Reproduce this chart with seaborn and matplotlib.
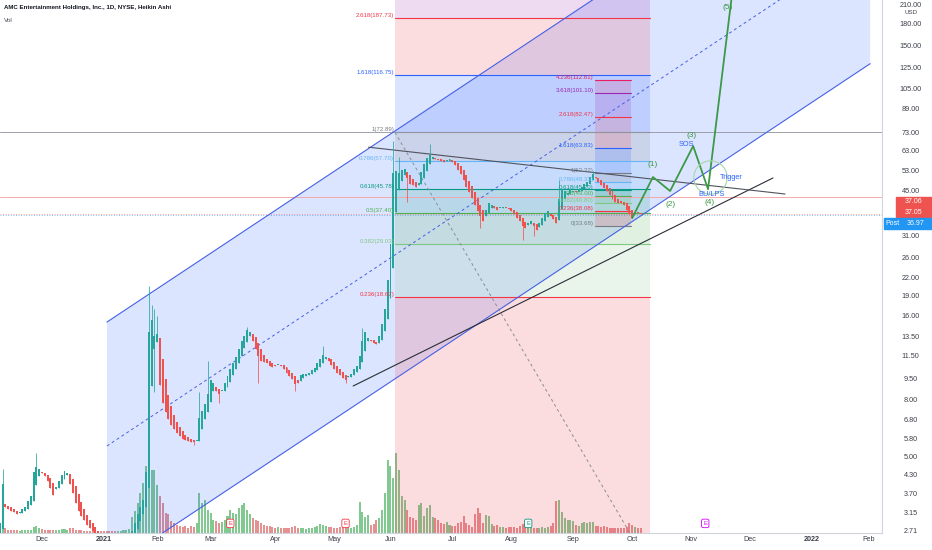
import numpy as np
import pandas as pd
import matplotlib
matplotlib.use("Agg")
import matplotlib.pyplot as plt
import matplotlib.transforms as mtransforms
from matplotlib.patches import Rectangle
from matplotlib.ticker import NullLocator, NullFormatter
import seaborn as sns

# ------------------------------------------------------------------ data
# bar index: 0 = 1 Dec 2020 (trading days), first bar = 9 Nov 2020
first_bar = -15
ha_open_first = 2.6

ha_close = [
    # Nov 2020
    2.9, 4.0, 3.3, 3.25, 3.2, 3.15, 3.1, 3.15, 3.25, 3.3, 3.45, 3.6, 4.4, 4.6, 4.5,
    # Dec 2020
    4.35, 4.25, 4.1, 3.85, 3.65, 3.9, 4.1, 4.3, 4.45, 4.35, 4.0, 3.7, 3.4, 3.2, 3.05,
    2.95, 2.85, 2.78, 2.7, 2.6, 2.5, 2.45,
    # Jan 2021
    2.4, 2.35, 2.3, 2.3, 2.3, 2.35, 2.4, 2.45, 2.5, 2.55, 2.7, 2.9, 3.1, 3.3, 3.5,
    4.4, 14.0, 15.5, 13.5,
    # Feb
    13.8, 9.0, 7.8, 7.2, 6.8, 6.5, 6.3, 6.1, 5.95, 5.8, 5.75, 5.7, 5.65, 5.65, 5.7,
    6.9, 7.3, 7.7, 8.4,
    # Mar
    9.4, 9.2, 8.6, 8.4, 8.6, 9.2, 9.7, 10.3, 10.8, 11.4, 12.2, 13.0, 13.6, 14.2, 14.0,
    13.0, 12.2, 11.5, 11.0, 10.9, 10.8, 10.6, 10.5,
    # Apr
    10.6, 10.7, 10.6, 10.3, 10.0, 9.7, 9.5, 9.1, 9.2, 9.8, 9.9, 9.9, 10.0, 10.2, 10.4,
    10.8, 11.2, 11.6, 11.4, 11.0, 10.7,
    # May
    10.3, 10.0, 9.8, 9.6, 9.4, 9.7, 9.9, 10.3, 10.6, 11.5, 13.0, 14.0, 13.3, 13.0, 12.8,
    12.7, 13.5, 15.0, 17.0, 21.5,
    # Jun
    29.0, 52.0, 53.0, 52.0, 53.5, 54.0, 50.0, 47.5, 47.0, 46.5, 48.0, 52.5, 56.0, 59.0,
    60.5, 59.5, 58.5, 58.0, 57.5, 57.0, 58.0, 58.5,
    # Jul
    57.0, 55.5, 53.5, 51.5, 49.0, 46.5, 44.5, 42.5, 40.0, 38.0, 36.5, 35.0, 38.5, 40.5,
    40.0, 39.0, 38.5, 39.0, 39.2, 39.0, 38.8,
    # Aug
    38.0, 37.0, 36.0, 35.0, 33.5, 33.0, 34.5, 35.0, 33.5, 32.5, 34.5, 36.0, 37.5, 38.0,
    36.5, 35.5, 34.5, 42.0, 45.5, 45.0, 44.0, 45.5,
    # Sep
    45.0, 44.5, 45.5, 46.5, 47.5, 48.5, 50.5, 51.5, 50.0, 48.5, 47.0, 46.0, 45.0, 43.5,
    42.0, 41.0, 40.5, 40.8, 40.0, 38.5, 37.0,
    # Oct
    36.0, 37.5, 37.3, 37.05,
]

volume_m = [
    # Nov 2020
    60, 130, 70, 50, 45, 40, 40, 35, 40, 45, 40, 50, 90, 110, 70,
    # Dec
    60, 50, 45, 40, 40, 45, 50, 60, 55, 45, 80, 70, 50, 45, 40, 35, 30, 30, 25, 30, 30, 25,
    # Jan
    30, 30, 35, 35, 30, 30, 35, 40, 40, 60, 240, 330, 450, 600, 750, 1000, 1150, 950, 950,
    # Feb
    720, 550, 450, 300, 280, 180, 150, 120, 100, 90, 110, 80, 100, 90, 150, 600, 450, 500, 350,
    # Mar
    300, 200, 180, 150, 160, 200, 250, 350, 300, 280, 380, 420, 450, 350, 280, 220, 200,
    180, 150, 120, 110, 100, 90,
    # Apr
    80, 90, 70, 80, 75, 70, 90, 100, 80, 75, 70, 65, 70, 80, 90, 110, 130, 120, 100, 90, 85,
    # May
    80, 75, 90, 100, 110, 90, 80, 85, 120, 460, 320, 240, 270, 120, 130, 200, 230, 350, 600, 1100,
    # Jun
    1000, 820, 1200, 950, 550, 500, 350, 240, 220, 200, 420, 450, 250, 380, 420, 240, 220,
    200, 150, 140, 160, 120,
    # Jul
    100, 110, 150, 170, 250, 150, 120, 90, 280, 380, 300, 150, 270, 260, 130, 110, 120, 90, 85, 80, 90,
    # Aug
    90, 85, 80, 100, 130, 150, 120, 90, 80, 75, 80, 85, 80, 90, 100, 150, 480, 500, 320, 220, 200, 190,
    # Sep
    180, 120, 110, 150, 160, 150, 170, 160, 110, 100, 95, 100, 95, 80, 70, 75, 70, 80, 75, 90, 150,
    # Oct
    120, 90, 80, 70,
]

wick_high = {-14: 4.5, -2: 5.15, 38: 20.4, 39: 17.5, 40: 17.0, 41: 16.0, 56: 8.5, 59: 11.0,
             73: 14.6, 100: 12.5, 114: 14.5, 125: 68.0, 127: 59.5, 138: 66.0, 184: 49.0, 196: 53.0}
wick_low = {40: 8.5, 54: 5.5, 63: 7.8, 77: 9.2, 90: 8.6, 108: 9.2, 130: 41.0, 156: 33.2,
            171: 30.0, 175: 31.0}

month_ticks = [0, 22, 41, 60, 83, 104, 124, 146, 167, 189, 210, 231, 252, 274, 294]
month_labels = ["Dec", "2021", "Feb", "Mar", "Apr", "May", "Jun", "Jul", "Aug", "Sep",
                "Oct", "Nov", "Dec", "2022", "Feb"]
price_ticks = [2.71, 3.15, 3.70, 4.30, 5.00, 5.80, 6.80, 8.00, 9.50, 11.50, 13.50, 16.00,
               19.00, 22.00, 26.00, 31.00, 45.00, 53.00, 63.00, 73.00, 89.00, 105.00,
               125.00, 150.00, 180.00, 210.00]

# parallel channel (bar index, price)
chan_x = [23.1, 294.7]
chan_upper = [15.2, 998.0]
chan_lower = [1.96, 128.6]

# Fibonacci retracements
fib_colors = {"0": "#787b86", "0.236": "#f23645", "0.382": "#81c784", "0.5": "#4caf50",
              "0.618": "#089981", "0.786": "#64b5f6", "1": "#787b86", "1.618": "#2962ff",
              "2.618": "#f23645", "3.618": "#9c27b0", "4.236": "#e91e63"}
big_fib_x = [125.6, 216.4]
big_fib_levels = {"0": 1.92, "0.236": 18.67, "0.382": 29.03, "0.5": 37.40, "0.618": 45.78,
                  "0.786": 57.70, "1": 72.89, "1.618": 116.75, "2.618": 187.73, "3.618": 258.70}
small_fib_x = [196.6, 209.6]
small_fib_levels = {"0": 33.68, "0.236": 38.08, "0.382": 40.80, "0.5": 43.00, "0.618": 45.20,
                    "0.786": 48.33, "1": 52.32, "1.618": 63.83, "2.618": 82.47,
                    "3.618": 101.10, "4.236": 112.61}
fib_trend_x = [125.6, 217.4]
fib_trend_p = [72.89, 1.92]

# trend lines
support_x, support_p = [110.7, 260.1], [8.96, 50.0]
resist_x, resist_p = [116.2, 264.4], [64.5, 43.8]

# projected wave path
proj_x = [210.0, 217.4, 223.5, 231.7, 237.0, 245.9]
proj_p = [35.9, 50.4, 44.9, 65.1, 45.6, 244.6]
wave_labels = [("(1)", 217.4, 55.7), ("(2)", 223.8, 40.3), ("(3)", 231.3, 71.3),
               ("(4)", 237.4, 41.0), ("(5)", 244.1, 205.0)]
note_labels = [("SOS", 229.2, 65.7), ("BU/LPS", 238.1, 43.8), ("Trigger", 245.2, 50.4)]
trigger_circle = (237.7, 50.4)

earn_bars = [67, 108, 173, 236]
earn_colors = ["#f23645", "#f23645", "#089981", "#d500f9"]

hlines_full = [(72.89, "#9598a1", "-", 0.9), (42.7, "#f7a1a8", "-", 0.9),
               (37.05, "#ef5350", ":", 0.55), (36.97, "#2196f3", ":", 0.55)]

# ------------------------------------------------------------------ build frame
n = len(ha_close)
assert n == len(volume_m), (n, len(volume_m))
bars = np.arange(first_bar, first_bar + n)
ha_open = [ha_open_first]
for k in range(1, n):
    ha_open.append((ha_open[k - 1] + ha_close[k - 1]) / 2)
ha_open = np.array(ha_open)
close = np.array(ha_close, dtype=float)
body_hi = np.maximum(ha_open, close)
body_lo = np.minimum(ha_open, close)
high = np.array([max(wick_high.get(b, h), h) for b, h in zip(bars, body_hi)])
low = np.array([min(wick_low.get(b, l), l) for b, l in zip(bars, body_lo)])
up = close >= ha_open
df = pd.DataFrame(dict(bar=bars, open=ha_open, close=close, high=high, low=low,
                       volume=volume_m, dir=np.where(up, "up", "down")))

# ------------------------------------------------------------------ figure
sns.set_theme(style="white")
plt.rcParams["font.family"] = ["Liberation Sans", "DejaVu Sans"]

W, H = 932, 550
PLOT_R, PLOT_B = 882, 533
fig = plt.figure(figsize=(W / 100, H / 100), dpi=100, facecolor="white")
pos = [0, (H - PLOT_B) / H, PLOT_R / W, PLOT_B / H]
XLIM = (-14.95, 298.9)
YLIM = (2.659, 217.7)

# volume pane (behind)
axv = fig.add_axes(pos)
axv.set_zorder(0)
sns.barplot(data=df, x="bar", y="volume", hue="dir",
            palette={"up": "#82c991", "down": "#e39191"}, native_scale=True,
            dodge=False, width=0.72, saturation=1, errorbar=None, legend=False,
            linewidth=0, ax=axv)
axv.set_xlim(*XLIM)
axv.set_ylim(0, 8000)
axv.axis("off")

# price pane
ax = fig.add_axes(pos)
ax.set_zorder(1)
ax.set_facecolor("none")
ax.set_yscale("log")
ax.set_xlim(*XLIM)
ax.set_ylim(*YLIM)

# channel
ax.fill_between(chan_x, chan_lower, chan_upper, color="#2962ff", alpha=0.16, lw=0, zorder=1)
ax.plot(chan_x, chan_upper, color="#4560e6", lw=0.8, zorder=3)
ax.plot(chan_x, chan_lower, color="#4560e6", lw=0.8, zorder=3)
chan_mid = [np.sqrt(a * b) for a, b in zip(chan_lower, chan_upper)]
ax.plot(chan_x, chan_mid, color="#4560e6", lw=0.7, ls=(0, (3, 3)), zorder=3)


def draw_fib(levels, xr, alpha, label_x):
    keys = list(levels.keys())
    for k in range(1, len(keys)):
        ax.fill_between(xr, levels[keys[k - 1]], levels[keys[k]],
                        color=fib_colors[keys[k]], alpha=alpha, lw=0, zorder=1)
    for key in keys:
        p = levels[key]
        ax.plot(xr, [p, p], color=fib_colors[key], lw=0.8, zorder=2)
        if YLIM[0] < p < YLIM[1] * 0.93:
            ax.text(label_x, p, f"{key}({p:.2f})", ha="right", va="bottom",
                    fontsize=4.4, color=fib_colors[key], zorder=7)


draw_fib(big_fib_levels, big_fib_x, 0.17, big_fib_x[0] - 0.3)
draw_fib(small_fib_levels, small_fib_x, 0.17, small_fib_x[0] - 0.3)
ax.plot(fib_trend_x, fib_trend_p, color="#8a8d96", lw=0.7, ls=(0, (3, 3)), zorder=3)

for p, c, ls, a in hlines_full:
    ax.axhline(p, color=c, lw=0.7, ls=ls, alpha=a, zorder=2)

# trend lines
ax.plot(support_x, support_p, color="#2a2e39", lw=0.8, zorder=3)
ax.plot(resist_x, resist_p, color="#50535e", lw=0.8, zorder=3)

# candles
cols = np.where(up, "#26a69a", "#ef5350")
ax.vlines(df["bar"], df["low"], df["high"], colors=cols, lw=0.55, zorder=5)
heights = np.maximum(body_hi - body_lo, body_lo * 0.008)
ax.bar(df["bar"], heights, bottom=body_lo, width=0.7, color=cols, linewidth=0, zorder=6)

# projected path
sns.lineplot(x=proj_x, y=proj_p, sort=False, color="#3c9a46", lw=1.3, ax=ax, zorder=6)
ax.plot([trigger_circle[0]], [trigger_circle[1]], marker="o", ms=24, mfc="none",
        mec="#a5d6a7", mew=0.8, zorder=6)
for t, x, y in wave_labels:
    ax.text(x, y, t, color="#3c9a46", fontsize=6, ha="center", va="center", zorder=8)
for t, x, y in note_labels:
    ax.text(x, y, t, color="#2962ff", fontsize=5.3, ha="center", va="center", zorder=8)

# earnings badges
btr = mtransforms.blended_transform_factory(ax.transData, ax.transAxes)
for b, c in zip(earn_bars, earn_colors):
    ax.text(b, 0.018, "E", transform=btr, ha="center", va="center", fontsize=4.2,
            color=c, zorder=9,
            bbox=dict(boxstyle="round,pad=0.3", fc="white", ec=c, lw=0.6))

# axes styling
ax.yaxis.tick_right()
ax.yaxis.set_minor_locator(NullLocator())
ax.yaxis.set_minor_formatter(NullFormatter())
ax.set_yticks(price_ticks)
ax.set_yticklabels([f"{v:.2f}" for v in price_ticks])
ax.tick_params(axis="y", length=0, pad=20.5, labelsize=5.2, labelcolor="#3b3f4a")
for lbl in ax.get_yticklabels():
    lbl.set_ha("center")
ax.set_xticks(month_ticks)
ax.set_xticklabels(month_labels)
ax.tick_params(axis="x", length=0, pad=2.5, labelsize=5.2, labelcolor="#3b3f4a")
for lbl in ax.get_xticklabels():
    if lbl.get_text() in ("2021", "2022"):
        lbl.set_fontweight("bold")
ax.set_xlabel("")
ax.set_ylabel("")
for s in ("left", "top"):
    ax.spines[s].set_visible(False)
for s in ("right", "bottom"):
    ax.spines[s].set_visible(True)
    ax.spines[s].set_color("#d1d4dc")
    ax.spines[s].set_linewidth(0.8)
ax.grid(False)

# header
fig.text(4 / W, 1 - 8 / H, "AMC Entertainment Holdings, Inc., 1D, NYSE, Heikin Ashi",
         fontsize=4.4, color="#131722", ha="left", va="center", fontweight="bold")
fig.text(4 / W, 1 - 20 / H, "Vol", fontsize=4.6, color="#4a4e59", ha="left", va="center")
fig.text(911 / W, 1 - 12 / H, "USD", fontsize=4.4, color="#3b3f4a", ha="center", va="center")


def fig_tag(x0, y0, x1, y1, color):
    fig.add_artist(Rectangle((x0 / W, 1 - y1 / H), (x1 - x0) / W, (y1 - y0) / H,
                             transform=fig.transFigure, color=color, zorder=10))


fig_tag(896, 197, 932, 207, "#ef5350")
fig_tag(896, 207, 932, 217, "#ef5350")
fig_tag(884, 218, 932, 229, "#2196f3")
fig.text(913 / W, 1 - 202 / H, "37.06", fontsize=5, color="white", ha="center", va="center", zorder=11)
fig.text(913 / W, 1 - 212 / H, "37.05", fontsize=5, color="white", ha="center", va="center", zorder=11)
fig.text(893 / W, 1 - 223.5 / H, "Post", fontsize=5, color="white", ha="center", va="center", zorder=11)
fig.text(916 / W, 1 - 223.5 / H, "36.97", fontsize=5, color="white", ha="center", va="center", zorder=11)

fig.savefig("out.png", dpi=100, facecolor="white")
